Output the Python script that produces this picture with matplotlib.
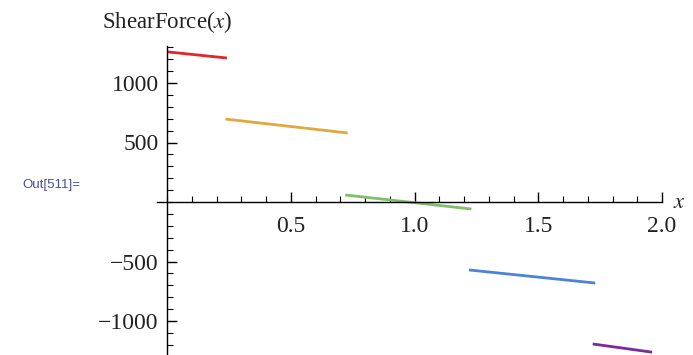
import matplotlib
matplotlib.use("Agg")
import matplotlib.pyplot as plt
from matplotlib.ticker import MultipleLocator, FixedLocator

plt.rcParams["mathtext.fontset"] = "stix"

# Piecewise shear-force segments: (x_start, x_end), (V_start, V_end)
seg_x = [
    [0.0, 0.242],
    [0.236, 0.73],
    [0.72, 1.23],
    [1.22, 1.73],
    [1.72, 1.96],
]
seg_y = [
    [1262, 1210],
    [697, 580],
    [59, -59],
    [-571, -681],
    [-1193, -1262],
]
seg_colors = ["#e0262b", "#e1a93b", "#7fbf6a", "#4a84d8", "#7b2a99"]

x_major = [0.5, 1.0, 1.5, 2.0]
x_major_labels = ["0.5", "1.0", "1.5", "2.0"]
y_major = [-1000, -500, 500, 1000]
y_major_labels = ["\u22121000", "\u2212500", "500", "1000"]

W, H = 693, 355
fig = plt.figure(figsize=(W / 100, H / 100), dpi=100)

# pixel geometry
px0, px_per = 167.0, 247.5   # x=0 pixel, px per unit
py0, py_per = 202.0, 0.119   # y=0 pixel, px per unit
left_px, right_px = 157.0, 662.0
top_px, bot_px = 46.0, 355.0
xlim = ((left_px - px0) / px_per, (right_px - px0) / px_per)
ylim = ((py0 - bot_px) / py_per, (py0 - top_px) / py_per)

ax = fig.add_axes([left_px / W, 1 - bot_px / H, (right_px - left_px) / W, (bot_px - top_px) / H])
ax.set_xlim(*xlim)
ax.set_ylim(*ylim)
ax.patch.set_alpha(0)

for xs, ys, c in zip(seg_x, seg_y, seg_colors):
    ax.plot(xs, ys, color=c, lw=2.0, solid_capstyle="butt")

for s in ["top", "right"]:
    ax.spines[s].set_visible(False)
ax.spines["left"].set_position(("data", 0))
ax.spines["bottom"].set_position(("data", 0))
ax.spines["left"].set_linewidth(1.0)
ax.spines["bottom"].set_linewidth(1.0)

serif = ["Liberation Serif", "DejaVu Serif"]
ax.xaxis.set_major_locator(FixedLocator(x_major))
ax.set_xticklabels(x_major_labels, family=serif, fontsize=17, color="#222222")
ax.xaxis.set_minor_locator(MultipleLocator(0.1))
ax.yaxis.set_major_locator(FixedLocator(y_major))
ax.set_yticklabels(y_major_labels, family=serif, fontsize=17, color="#222222")
ax.yaxis.set_minor_locator(MultipleLocator(100))
ax.tick_params(which="major", direction="in", length=7, width=1.0)
ax.tick_params(which="minor", direction="in", length=4, width=0.8)
ax.tick_params(axis="y", which="major", pad=6)
ax.tick_params(axis="x", which="major", pad=10)

fig.text(167 / W, 1 - 22 / H, "ShearForce($x$)", family=serif, fontsize=16.5,
         ha="center", va="center", color="#222222")
ax.text(2.07, 0, "$x$", fontsize=16, ha="center", va="center",
        transform=ax.transData, clip_on=False, color="#222222")
fig.text(22 / W, 1 - 185 / H, "Out[511]=", family=["Liberation Sans", "DejaVu Sans"],
         fontsize=9.5, color="#4a4aa0", ha="left", va="center")

fig.savefig("out.png", dpi=100)
